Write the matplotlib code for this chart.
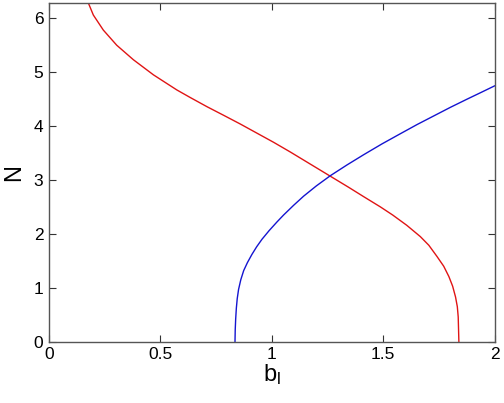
import matplotlib
matplotlib.use("Agg")
import matplotlib.pyplot as plt
import numpy as np

plt.rcParams['font.family'] = ['Liberation Sans', 'DejaVu Sans']
plt.rcParams['mathtext.default'] = 'regular'

# Red curve (b_l, N)
red_b = [0.175, 0.199, 0.244, 0.304, 0.379, 0.469, 0.574, 0.634, 0.709, 0.784,
         0.858, 0.933, 1.008, 1.083, 1.163, 1.263, 1.343, 1.413, 1.488, 1.543,
         1.606, 1.667, 1.705, 1.742, 1.772, 1.795, 1.812, 1.825, 1.833, 1.837,
         1.840]
red_N = [6.30, 6.06, 5.78, 5.50, 5.23, 4.95, 4.67, 4.53, 4.36, 4.20,
         4.04, 3.87, 3.70, 3.52, 3.32, 3.07, 2.87, 2.69, 2.50, 2.35,
         2.16, 1.95, 1.79, 1.58, 1.40, 1.21, 1.03, 0.83, 0.65, 0.46,
         0.0]

# Blue curve (b_l, N)
blue_b = [0.835, 0.836, 0.838, 0.841, 0.845, 0.851, 0.861, 0.874, 0.891, 0.911,
          0.932, 0.956, 0.988, 1.023, 1.053, 1.098, 1.143, 1.200, 1.263, 1.338,
          1.413, 1.495, 1.578, 1.653, 1.728, 1.803, 1.877, 1.940, 2.0]
blue_N = [0.0, 0.22, 0.42, 0.62, 0.80, 0.97, 1.15, 1.32, 1.47, 1.62,
          1.76, 1.90, 2.06, 2.22, 2.35, 2.53, 2.70, 2.89, 3.08, 3.28,
          3.47, 3.67, 3.86, 4.03, 4.19, 4.35, 4.50, 4.625, 4.745]

xticks = [0, 0.5, 1, 1.5, 2]
xticklabels = ['0', '0.5', '1', '1.5', '2']
yticks = [0, 1, 2, 3, 4, 5, 6]

fig = plt.figure(figsize=(5.04, 4.03), dpi=100)
ax = fig.add_axes([0.0972, 0.152, 0.884, 0.8406])

ax.plot(red_b, red_N, color='#e01414', lw=1.0)
ax.plot(blue_b, blue_N, color='#1414d0', lw=1.0)

ax.set_xlim(0, 2)
ax.set_ylim(0, 2 * np.pi)
ax.set_xticks(xticks)
ax.set_xticklabels(xticklabels)
ax.set_yticks(yticks)
ax.tick_params(direction='in', top=True, right=True, length=5, width=0.8,
               labelsize=12.5, colors='#333333', labelcolor='black', pad=4)
for s in ax.spines.values():
    s.set_color('#555555')
    s.set_linewidth(1.0)

ax.set_xlabel(r'$b_l$', fontsize=17, labelpad=0)
ax.set_ylabel('N', fontsize=17, labelpad=6)

fig.savefig('out.png', dpi=100)
